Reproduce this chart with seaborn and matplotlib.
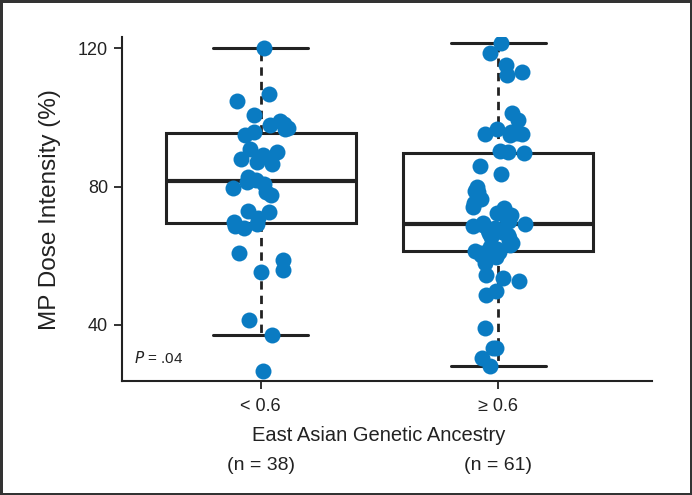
import numpy as np
import pandas as pd
import matplotlib
matplotlib.use("Agg")
import matplotlib.pyplot as plt
import matplotlib.transforms as mtransforms
import seaborn as sns

# ---- data ----
categories = ["< 0.6", "\u2265 0.6"]
n_labels = ["(n = 38)", "(n = 61)"]
low_group = [26.8, 37.1, 41.4, 55.2, 55.9, 58.8, 60.7, 67.9, 68.5, 69.2,
             69.8, 70.8, 72.7, 72.9, 77.5, 78.3, 79.5, 80.7, 81.4, 82.0,
             82.8, 86.5, 87.0, 88.0, 89.0, 90.0, 91.0, 95.0, 95.8, 96.5,
             97.0, 97.7, 98.2, 99.0, 100.6, 104.8, 106.7, 120.0]
high_group = [28.0, 30.4, 33.4, 33.4, 39.2, 48.7, 49.9, 52.8, 53.5, 54.4,
              58.0, 59.7, 60.3, 60.8, 61.2, 61.4, 62.0, 62.6, 63.2, 63.8,
              64.5, 65.0, 65.5, 66.0, 66.5, 67.0, 67.5, 68.0, 68.5, 68.9,
              69.2, 69.6, 70.0, 70.6, 71.8, 72.3, 73.7, 74.0, 75.3, 76.3,
              78.5, 78.7, 80.0, 83.5, 85.9, 89.6, 89.9, 90.4, 95.0, 95.2,
              95.2, 95.5, 95.8, 96.5, 99.2, 101.3, 112.2, 113.2, 115.1, 118.6,
              121.6]
y_ticks = [40, 80, 120]

df = pd.DataFrame({
    "group": [categories[0]] * len(low_group) + [categories[1]] * len(high_group),
    "value": low_group + high_group,
})

sns.set_style("ticks")
plt.rcParams["font.family"] = ["Liberation Sans Narrow", "Liberation Sans", "DejaVu Sans"]
plt.rcParams["mathtext.fontset"] = "custom"
plt.rcParams["mathtext.it"] = "Liberation Sans Narrow:italic"
plt.rcParams["mathtext.rm"] = "Liberation Sans Narrow"

fig = plt.figure(figsize=(6.92, 4.95), dpi=100, facecolor="white",
                 edgecolor="#333333", linewidth=2.5)
ax = fig.add_axes([0.176, 0.2303, 0.766, 0.6947])

line_col = "#222222"
sns.boxplot(data=df, x="group", y="value", order=categories, ax=ax,
            color="white", linecolor=line_col, linewidth=2.2, width=0.8,
            showfliers=False,
            whiskerprops={"linestyle": (0, (3.0, 2.2)), "linewidth": 2.0},
            medianprops={"linewidth": 3.0},
            capprops={"linewidth": 2.2})

np.random.seed(3)
sns.stripplot(data=df, x="group", y="value", order=categories, ax=ax,
              color="#0a7bc2", size=11.5, jitter=0.12, linewidth=0, zorder=5)

ax.set_xlim(-0.584, 1.647)
ax.set_ylim(23.8, 123.2)
ax.set_yticks(y_ticks)
ax.set_yticklabels([str(t) for t in y_ticks])
ax.tick_params(axis="both", direction="out", length=6, width=1.3,
               color=line_col, labelsize=13, labelcolor="#222222", pad=4)
ax.tick_params(axis="x", pad=6)
for side in ["top", "right"]:
    ax.spines[side].set_visible(False)
for side in ["left", "bottom"]:
    ax.spines[side].set_linewidth(1.5)
    ax.spines[side].set_color(line_col)

ax.set_ylabel("MP Dose Intensity (%)", fontsize=17.5, color="#222222", labelpad=12)
ax.set_xlabel("East Asian Genetic Ancestry", fontsize=14.5, color="#222222")
ax.xaxis.set_label_coords(0.485, -0.13)

trans = mtransforms.blended_transform_factory(ax.transData, ax.transAxes)
for i, lab in enumerate(n_labels):
    ax.text(i, -0.245, lab, transform=trans, ha="center", va="center",
            fontsize=14, color="#222222")

ax.text(0.023, 0.067, r"$\it{P}$ = .04", transform=ax.transAxes,
        ha="left", va="center", fontsize=11, color="#222222")

fig.savefig("out.png", dpi=100, facecolor="white", edgecolor="#333333")
